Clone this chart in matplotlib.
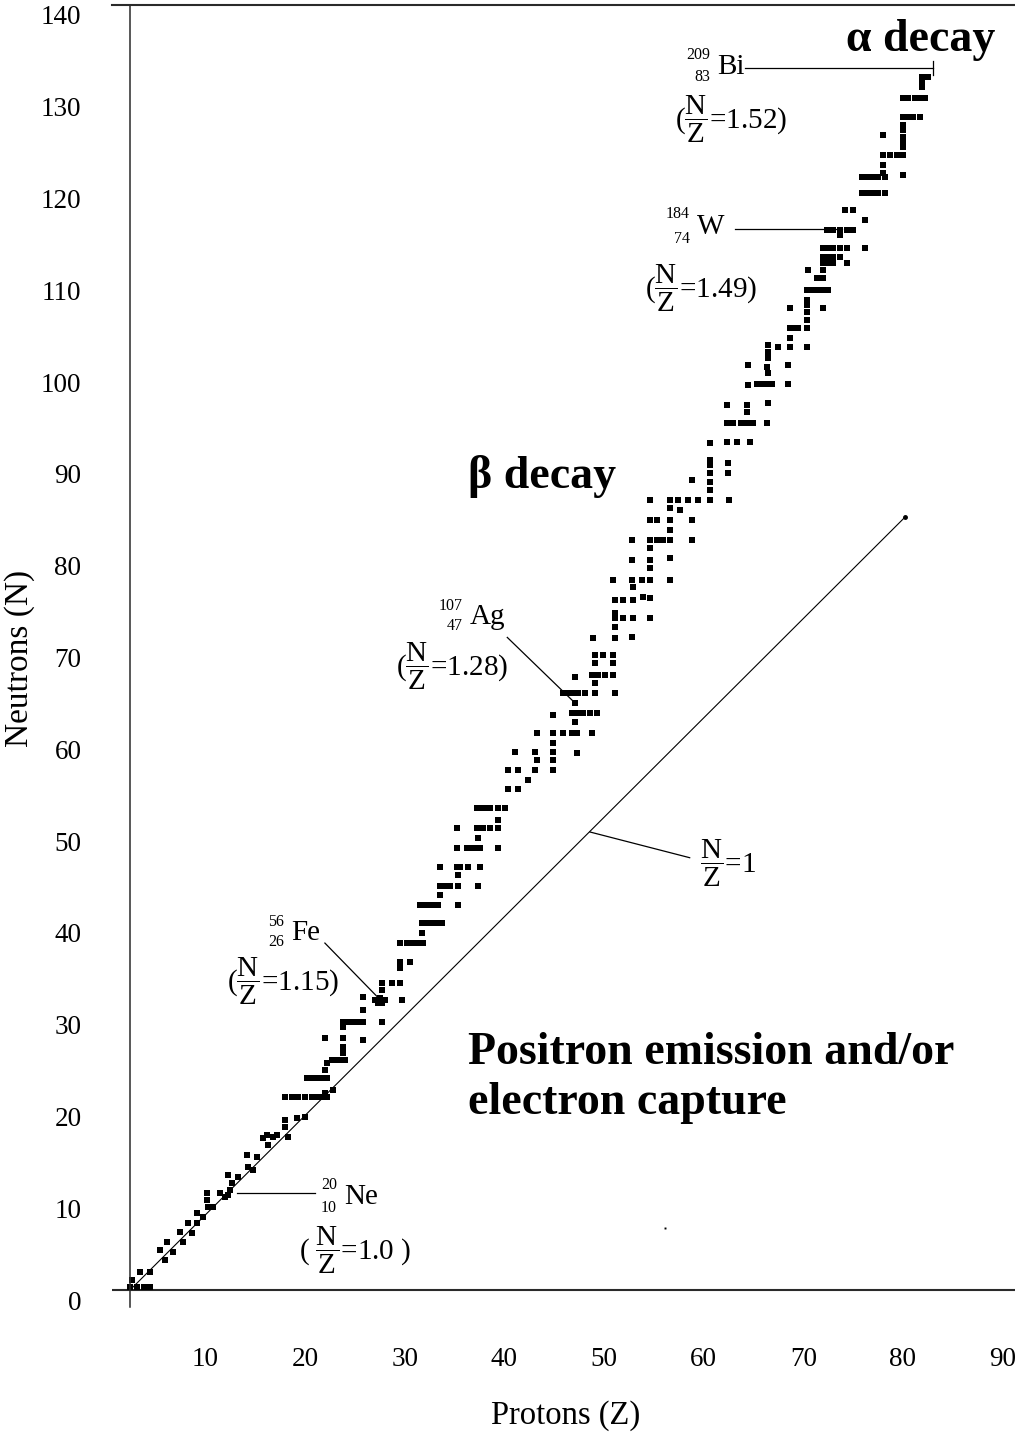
import matplotlib
matplotlib.use('Agg')
import matplotlib.pyplot as plt
from matplotlib.transforms import ScaledTranslation

plt.rcParams['font.family'] = 'serif'
plt.rcParams['font.serif'] = ['Liberation Serif', 'DejaVu Serif']
plt.rcParams['mathtext.fontset'] = 'custom'
plt.rcParams['mathtext.rm'] = 'Liberation Serif'
plt.rcParams['mathtext.it'] = 'Liberation Serif:italic'
plt.rcParams['mathtext.bf'] = 'Liberation Serif:bold'

# stable nuclides, (Z, N) --------------------------------------------------------------------
light_nuclei = [
    (2.45, 0.3), (3.15, 0.3), (3.85, 0.3), (4.45, 0.3), (2.65, 1.1), (3.45, 2.0), (4.45, 2.0),
    (5.5, 4.4), (6.2, 5.2), (6.0, 3.3), (6.8, 4.1),
    (7.5, 6.3), (7.8, 5.2), (8.3, 7.3), (8.7, 6.2),
    (9.2, 8.4), (9.2, 7.3), (9.8, 8.0), (10.2, 10.6), (10.2, 9.8), (10.3, 9.0), (10.8, 9.0),
    (11.5, 10.6), (12.0, 10.1), (12.3, 12.5), (12.7, 11.7), (12.5, 10.9), (13.3, 12.3), (12.3, 10.4),
    (14.2, 14.7), (14.3, 13.4), (15.2, 14.5), (14.8, 13.1),
    (15.8, 16.6), (16.2, 16.9), (16.3, 15.8), (16.8, 16.7), (17.2, 16.9), (18.3, 16.7),
    (18.0, 18.5), (18.0, 17.8), (19.2, 18.7), (20.0, 18.9),
    (18.0, 21.0), (18.7, 21.0), (19.3, 21.0), (20.0, 21.0), (20.7, 21.0), (21.2, 21.0), (21.8, 21.0),
    (22.2, 21.0), (22.0, 21.5), (22.8, 21.8),
    (20.2, 23.1), (20.7, 23.1), (21.2, 23.1), (21.8, 23.1), (22.2, 23.1),
    (22.0, 24.0), (22.2, 24.7),
    (22.7, 25.1), (23.2, 25.1), (23.7, 25.1), (24.0, 25.1),
]

medium_nuclei = [
    (22.0, 27.5), (23.8, 27.5), (23.8, 26.5), (23.8, 25.8), (25.8, 27.2),
    (23.8, 29.2), (24.3, 29.2), (24.8, 29.2), (25.3, 29.2), (25.8, 29.2), (23.8, 28.7), (25.8, 30.5), (27.7, 29.2),
    (25.8, 31.9), (27.0, 31.6), (27.5, 31.8), (28.0, 31.6), (27.3, 31.3), (27.7, 31.3),
    (27.7, 33.5), (27.7, 32.7), (28.7, 33.5), (29.5, 33.5), (29.7, 31.6),
    (29.5, 35.7), (29.5, 35.1), (30.5, 35.7),
    (29.5, 37.8), (30.2, 37.8), (30.7, 37.8), (31.2, 37.8), (31.8, 37.8), (31.7, 38.9),
    (31.7, 40.0), (32.2, 40.0), (32.7, 40.0), (33.2, 40.0), (33.7, 40.0),
    (31.5, 41.9), (32.1, 41.9), (32.7, 41.9), (33.3, 41.9), (35.4, 41.9),
    (33.5, 43.0),
    (33.5, 44.0), (34.1, 44.0), (34.6, 44.0), (35.4, 44.0), (37.4, 44.0),
    (33.5, 46.1), (35.3, 46.1), (35.6, 46.1), (36.4, 46.1), (37.6, 46.1), (35.4, 45.2),
    (35.3, 48.2), (36.3, 48.2), (36.8, 48.2), (37.3, 48.2), (37.6, 48.2), (39.4, 48.2), (37.4, 49.2),
    (35.3, 50.3), (37.3, 50.3), (37.9, 50.3), (38.6, 50.3), (39.4, 50.3), (39.4, 51.2),
    (37.3, 52.5), (37.8, 52.5), (38.3, 52.5), (38.6, 52.5), (39.4, 52.5), (40.1, 52.5),
    (40.4, 54.6), (41.4, 54.6), (42.4, 55.6),
    (40.4, 56.7), (41.4, 56.7), (41.1, 58.6), (43.1, 58.6), (43.3, 57.7), (43.1, 56.7),
    (44.9, 58.6), (44.9, 57.7), (44.9, 56.7), (47.3, 58.5),
    (43.3, 60.7), (44.9, 60.7), (45.9, 60.7), (46.8, 60.7), (47.3, 60.7), (48.8, 60.7), (44.9, 59.6), (44.9, 62.6),
    (46.8, 62.9), (47.4, 62.9), (47.9, 62.9), (48.6, 62.9), (49.3, 62.9), (47.1, 61.9), (47.1, 64.0),
    (45.9, 65.0), (46.4, 65.0), (46.9, 65.0), (47.4, 65.0), (48.1, 65.0), (49.1, 65.0), (51.1, 65.0),
    (47.1, 66.8), (48.8, 67.0), (49.4, 67.0), (50.1, 67.0), (50.9, 67.0),
    (49.1, 66.1), (49.1, 68.3), (49.1, 69.2), (49.9, 69.2), (50.9, 69.2), (50.9, 68.3),
    (48.9, 71.0), (51.1, 71.0), (52.8, 71.1),
    (51.1, 72.2), (51.1, 73.2), (51.1, 73.8), (51.9, 73.2), (52.9, 73.2),
    (51.1, 75.2), (51.9, 75.2), (52.9, 75.2), (52.9, 76.6), (53.9, 75.5),
]

heavy_nuclei = [
    (54.6, 75.4), (54.6, 73.2),
    (50.9, 77.4), (52.8, 77.4), (53.8, 77.4), (54.6, 77.4), (56.6, 77.4),
    (54.6, 78.7), (54.6, 79.5), (54.6, 80.8), (56.6, 79.8), (52.8, 79.5),
    (52.8, 81.7), (54.6, 81.7), (55.3, 81.7), (55.9, 81.7), (56.6, 81.7), (58.8, 81.7),
    (54.6, 83.9), (55.3, 83.9), (56.6, 83.9), (58.8, 83.9), (56.6, 82.8), (57.6, 85.0), (56.6, 85.2),
    (54.6, 86.1), (56.6, 86.1), (57.4, 86.1), (58.4, 86.1), (59.4, 86.1), (60.6, 86.1), (62.5, 86.1),
    (60.6, 87.2), (60.6, 88.0), (60.6, 89.0), (60.6, 89.9), (60.6, 90.4), (58.8, 88.2), (62.4, 89.0), (62.4, 90.1),
    (60.6, 92.3), (62.3, 92.4), (63.3, 92.4), (64.7, 92.4),
    (62.3, 94.5), (62.9, 94.5), (63.7, 94.5), (64.4, 94.5), (65.0, 94.5), (66.4, 94.5),
    (62.3, 96.4), (64.4, 96.4), (64.4, 95.7), (66.5, 96.6),
    (64.5, 98.6), (65.4, 98.7), (65.9, 98.7), (66.4, 98.7), (66.9, 98.7), (68.5, 98.7),
    (64.5, 100.8), (66.4, 100.6), (66.5, 99.9), (68.5, 100.8),
    (66.5, 101.5), (66.5, 102.2), (66.5, 103.0), (67.5, 102.7), (68.7, 102.7), (70.4, 102.7),
    (68.7, 103.7), (68.7, 104.8), (69.2, 104.8), (69.5, 104.8), (70.4, 104.8), (70.4, 105.7), (68.7, 107.0),
    (70.4, 106.6), (70.4, 107.3), (70.4, 107.9),
    (70.4, 109.0), (71.0, 109.0), (71.5, 109.0), (72.0, 109.0), (72.5, 109.0), (72.0, 107.0),
    (70.5, 111.1), (71.4, 110.3), (72.0, 110.3), (72.0, 111.1), (72.0, 111.9), (72.0, 112.5), (72.0, 113.5),
    (72.4, 111.9), (73.0, 111.9), (74.4, 111.9),
    (72.4, 113.5), (73.0, 113.5), (73.7, 113.5), (74.4, 113.5), (76.2, 113.5),
    (72.4, 112.5), (73.0, 112.5), (73.7, 112.5),
    (72.4, 115.5), (73.0, 115.5), (73.7, 115.5), (74.4, 115.5), (75.0, 115.5), (73.7, 114.9),
    (74.2, 117.7), (75.0, 117.7), (76.2, 116.6),
    (75.9, 119.5), (76.4, 119.5), (76.9, 119.5), (77.5, 119.5), (78.2, 119.5),
    (75.9, 121.3), (76.4, 121.3), (76.9, 121.3), (77.5, 121.3), (78.2, 121.3), (78.0, 121.7),
    (78.0, 122.6), (78.0, 123.7), (78.7, 123.7), (79.4, 123.7), (80.0, 123.7), (80.0, 121.5),
    (78.0, 125.8), (80.0, 124.5), (80.0, 125.1), (80.0, 125.6), (80.0, 126.4), (80.0, 126.9),
    (80.0, 127.8), (80.5, 127.8), (81.0, 127.8), (81.7, 127.8),
    (80.0, 129.9), (80.5, 129.9), (81.2, 129.9), (81.7, 129.9), (82.2, 129.9),
    (81.9, 131.1), (81.9, 131.6), (81.9, 132.2), (82.5, 132.2),
]

# N/Z = 1 reference line as drawn
nz1_z = [2.45, 80.2]
nz1_n = [0.0, 84.2]

# pointer lines of the labelled nuclides: (z0, n0, z1, n1)
pointer_bi = (64.2, 133.1, 83.0, 133.1)
pointer_w = (63.1, 115.6, 73.9, 115.6)
pointer_ag = (40.3, 71.1, 47.1, 63.95)
pointer_fe = (22.0, 37.8, 27.3, 31.9)
pointer_ne = (13.2, 10.6, 21.0, 10.6)
pointer_nz1 = (48.6, 49.9, 58.6, 47.1)

x_ticks = [10, 20, 30, 40, 50, 60, 70, 80, 90]
y_ticks = [0, 10, 20, 30, 40, 50, 60, 70, 80, 90, 100, 110, 120, 130, 140]
#--------------------------------------------------------------------------------------------


W, H = 1015, 1435
fig = plt.figure(figsize=(W / 100, H / 100), dpi=100)
ax = fig.add_axes([112 / W, 1 - 1307 / H, 1 - 112 / W, (1307 - 5) / H])
ax.set_xlim(0.64, 91.24)
ax.set_ylim(-1.85, 140)

line_col = '#2a2a2a'
for side in ('right', 'bottom'):
    ax.spines[side].set_visible(False)
ax.spines['top'].set_color(line_col)
ax.spines['top'].set_linewidth(1.5)
ax.spines['left'].set_position(('data', 2.45))
ax.spines['left'].set_color(line_col)
ax.spines['left'].set_linewidth(1.1)
ax.axhline(0, color=line_col, lw=1.5)

ax.set_xticks(x_ticks)
ax.set_yticks(y_ticks)
ax.tick_params(axis='both', length=0, labelsize=19.5)
ax.tick_params(axis='x', pad=29)
ax.tick_params(axis='y', pad=35)
for lab in ax.get_yticklabels():
    lab.set_transform(lab.get_transform() + ScaledTranslation(0, -0.10, fig.dpi_scale_trans))

# nuclide band
for pts in (light_nuclei, medium_nuclei, heavy_nuclei):
    zs = [p[0] for p in pts]
    ns = [p[1] for p in pts]
    ax.plot(zs, ns, 's', color='black', ms=4.9, mew=0)
ax.plot([56.1], [6.75], 's', color='black', ms=1.4, mew=0)

ax.plot(nz1_z, nz1_n, color='black', lw=0.8)
ax.plot(nz1_z[-1:], nz1_n[-1:], 'o', color='black', ms=2.5)

for z0, n0, z1, n1 in (pointer_bi, pointer_w, pointer_ag, pointer_fe, pointer_ne, pointer_nz1):
    ax.plot([z0, z1], [n0, n1], color='black', lw=0.9)
ax.plot([83.0, 83.0], [132.4, 133.9], color='black', lw=0.9)


def put(x, y, s, **kw):
    fig.text(x / W, 1 - y / H, s, **kw)


# axis titles
put(20, 658, 'Neutrons (N)', rotation=90, ha='center', va='center', size=24)
put(566, 1416, 'Protons (Z)', ha='center', va='center', size=23.5)

# region names
bold = dict(weight='bold', size=33, va='center')
put(921, 40, 'α decay', ha='center', **bold)
put(542, 477, 'β decay', ha='center', **bold)
put(468, 1053, 'Positron emission and/or', ha='left', **bold)
put(468, 1103, 'electron capture', ha='left', **bold)

# nuclide labels
def nuclide(x, y_sup, y_sub, mass, number, sym):
    put(x, y_sup, mass, ha='right', va='center', size=11.5)
    put(x, y_sub, number, ha='right', va='center', size=11.5)
    put(x + 7, (y_sup + y_sub) / 2 + 1, sym, ha='left', va='center', size=21)


nuclide(710, 55, 77, '209', '83', 'Bi')
nuclide(690, 214, 239, '184', '74', 'W')
nuclide(463, 606, 626, '107', '47', 'Ag')
nuclide(284, 922, 942, '56', '26', 'Fe')
nuclide(337, 1185, 1208, '20', '10', 'Ne')

frac = r'$\dfrac{\mathrm{N}}{\mathrm{Z}}$'
ratio = dict(ha='left', va='center', size=21)
put(675, 119, '(' + frac + '=1.52)', **ratio)
put(645, 288, '(' + frac + '=1.49)', **ratio)
put(396, 666, '(' + frac + '=1.28)', **ratio)
put(227, 981, '(' + frac + '=1.15)', **ratio)
put(299, 1250, '( ' + frac + '=1.0 )', **ratio)
put(700, 863, frac + '=1', **ratio)

fig.savefig('out.png', dpi=100)
